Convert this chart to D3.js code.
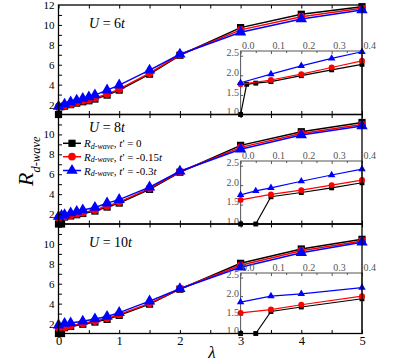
<!DOCTYPE html>
<html>
<head>
<meta charset="utf-8">
<script src="https://cdnjs.cloudflare.com/ajax/libs/d3/7.8.5/d3.min.js"></script>
<style>
body { margin: 0; background: #fff; }
svg { display: block; font-family: "Liberation Serif", "DejaVu Serif", serif; }
</style>
</head>
<body>
<svg id="chart" width="395" height="363"></svg>
<script>
// U = 6t
var u6BlackX = [0, 0.02, 0.05, 0.1, 0.2, 0.3, 0.4, 0.5, 0.6, 0.8, 1, 1.5, 2, 3, 4, 5];
var u6BlackY = [1.0, 1.77, 1.80, 1.84, 1.99, 2.14, 2.28, 2.38, 2.55, 2.95, 3.45, 5.05, 6.95, 9.73, 11.07, 11.83];
var u6RedX = [0, 0.1, 0.2, 0.3, 0.4, 0.5, 0.6, 0.8, 1, 1.5, 2, 3, 4, 5];
var u6RedY = [1.77, 1.88, 2.03, 2.20, 2.37, 2.48, 2.65, 3.05, 3.55, 5.15, 7.0, 9.5, 10.83, 11.67];
var u6BlueX = [0, 0.1, 0.2, 0.3, 0.4, 0.5, 0.6, 0.8, 1, 1.5, 2, 3, 4, 5];
var u6BlueY = [1.81, 2.03, 2.24, 2.43, 2.60, 2.75, 2.95, 3.45, 3.95, 5.45, 7.05, 9.27, 10.6, 11.5];

// U = 8t
var u8BlackX = [0, 0.05, 0.1, 0.2, 0.3, 0.4, 0.6, 0.8, 1, 1.5, 2, 3, 4, 5];
var u8BlackY = [1.0, 1.0, 1.70, 1.81, 1.93, 2.06, 2.3, 2.7, 3.1, 4.48, 6.2, 8.9, 10.27, 11.2];
var u8RedX = [0, 0.1, 0.2, 0.3, 0.4, 0.6, 0.8, 1, 1.5, 2, 3, 4, 5];
var u8RedY = [1.62, 1.76, 1.87, 2.0, 2.13, 2.4, 2.8, 3.2, 4.58, 6.25, 8.7, 10.1, 11.0];
var u8BlueX = [0, 0.05, 0.1, 0.2, 0.3, 0.4, 0.6, 0.8, 1, 1.5, 2, 3, 4, 5];
var u8BlueY = [1.75, 1.85, 1.93, 2.1, 2.26, 2.41, 2.65, 3.1, 3.45, 4.7, 6.3, 8.5, 9.94, 10.85];

// U = 10t
var u10BlackX = [0, 0.05, 0.1, 0.2, 0.4, 0.6, 0.8, 1, 1.5, 2, 3, 4, 5];
var u10BlackY = [1.0, 1.0, 1.59, 1.71, 1.93, 2.15, 2.42, 2.82, 3.95, 5.45, 8.05, 9.49, 10.46];
var u10RedX = [0, 0.1, 0.2, 0.4, 0.6, 0.8, 1, 1.5, 2, 3, 4, 5];
var u10RedY = [1.55, 1.64, 1.77, 2.0, 2.25, 2.52, 2.92, 4.03, 5.5, 7.85, 9.32, 10.3];
var u10BlueX = [0, 0.1, 0.2, 0.4, 0.6, 0.8, 1, 1.5, 2, 3, 4, 5];
var u10BlueY = [1.84, 2.0, 2.06, 2.23, 2.45, 2.7, 3.1, 4.25, 5.5, 7.65, 9.12, 10.16];

var panelLabels = ["6", "8", "10"];
var legendLabels = ["0", "-0.15", "-0.3"];
var legendT = ["", "t", "t"];
var mainXTicks = [0, 1, 2, 3, 4, 5];
var insetXTicks = [0, 0.1, 0.2, 0.3, 0.4];
var insetYTicks = [1.0, 1.5, 2.0, 2.5];

var colors = ["#000000", "#ff0000", "#0000ff"];
var symbols = [d3.symbolSquare, d3.symbolCircle, d3.symbolTriangle];

var panels = [
    [[u6BlackX, u6BlackY], [u6RedX, u6RedY], [u6BlueX, u6BlueY]],
    [[u8BlackX, u8BlackY], [u8RedX, u8RedY], [u8BlueX, u8BlueY]],
    [[u10BlackX, u10BlackY], [u10RedX, u10RedY], [u10BlueX, u10BlueY]]
];

var svg = d3.select("#chart");
var left = 58.5, right = 362;
var panelTops = [5, 114.5, 224];
var panelH = 109.5;
var insetTops = [51, 161, 273];
var labelBase = [28.3, 131.7, 247.3];

var x = d3.scaleLinear().domain([0, 5]).range([left, right]);

function drawSeries(g, xs, ys, sx, sy, color, symbol, size, lw) {
    var pts = xs.map(function (v, i) { return [v, ys[i]]; });
    g.append("path")
        .datum(pts)
        .style("stroke", color)
        .style("stroke-width", lw)
        .style("fill", "none")
        .attr("d", d3.line()
            .x(function (d) { return sx(d[0]); })
            .y(function (d) { return sy(d[1]); }));
    g.selectAll(null)
        .data(pts)
        .enter().append("path")
        .attr("transform", function (d) { return "translate(" + sx(d[0]) + "," + sy(d[1]) + ")"; })
        .attr("d", d3.symbol().type(symbol).size(size))
        .style("fill", color);
}

function styleAxis(g, color, size) {
    g.attr("font-family", null).attr("font-size", size);
    g.select(".domain").remove();
    g.selectAll("line").style("stroke", color);
    g.selectAll("text").style("fill", color);
}

var msizes = [52, 46, 56];
var isizes = [24, 28, 24];

panels.forEach(function (series, p) {
    var top = panelTops[p], bottom = top + panelH;
    var y = d3.scaleLinear().domain([1, 12]).range([bottom, top]);
    var g = svg.append("g");

    series.forEach(function (s, k) {
        drawSeries(g, s[0], s[1], x, y, colors[k], symbols[k], msizes[k], 1.5);
    });

    // inset
    var ix = d3.scaleLinear().domain([0, 0.4]).range([x(3), x(5)]);
    var iy = d3.scaleLinear().domain([1, 2.62]).range([bottom, insetTops[p]]);
    var ig = svg.append("g");
    ig.append("rect")
        .attr("x", ix(0)).attr("y", insetTops[p])
        .attr("width", ix(0.4) - ix(0)).attr("height", bottom - insetTops[p])
        .style("fill", "#fff").style("stroke", "#555").style("stroke-width", 1);
    series.forEach(function (s, k) {
        var xs = [], ys = [];
        s[0].forEach(function (v, i) { if (v <= 0.4) { xs.push(v); ys.push(s[1][i]); } });
        drawSeries(ig, xs, ys, ix, iy, colors[k], symbols[k], isizes[k], 1.2);
    });
    var iyAxis = ig.append("g")
        .attr("transform", "translate(" + ix(0) + ",0)")
        .call(d3.axisLeft(iy).tickValues(insetYTicks).tickSize(-2.5).tickPadding(1.5)
            .tickFormat(d3.format(".1f")));
    styleAxis(iyAxis, "#555", 10);
    iyAxis.selectAll("text").attr("dy", "0.02em");
    var ixAxis = ig.append("g")
        .attr("transform", "translate(0," + insetTops[p] + ")")
        .call(d3.axisTop(ix).tickValues(insetXTicks).tickSize(-3).tickPadding(2)
            .tickFormat(d3.format(".1f")));
    styleAxis(ixAxis, "#555", 10);
    ixAxis.selectAll("text").attr("text-anchor", "start").attr("x", 1);
    var ixMinor = ig.append("g")
        .attr("transform", "translate(0," + insetTops[p] + ")")
        .call(d3.axisTop(ix).tickValues([0.05, 0.15, 0.25, 0.35]).tickSize(-2).tickFormat(""));
    styleAxis(ixMinor, "#555", 10);

    // frame and main ticks
    svg.append("rect")
        .attr("x", left).attr("y", top)
        .attr("width", right - left).attr("height", panelH)
        .style("fill", "none").style("stroke", "#000").style("stroke-width", 1.3);

    var yt = svg.append("g").attr("transform", "translate(" + left + ",0)")
        .call(d3.axisLeft(y).tickValues(d3.range(2, 12)).tickSize(-3.5).tickFormat(""));
    styleAxis(yt, "#000", 11);
    var yl = svg.append("g").attr("transform", "translate(" + left + ",0)")
        .call(d3.axisLeft(y).tickValues(p === 0 ? [2, 4, 6, 8, 10, 12] : [2, 4, 6, 8, 10])
            .tickSize(0).tickPadding(4).tickFormat(d3.format("d")));
    styleAxis(yl, "#000", 11);

    var xb = svg.append("g").attr("transform", "translate(0," + bottom + ")")
        .call(d3.axisBottom(x).tickValues(d3.range(0, 5.01, 0.5)).tickSize(-3.5).tickFormat(""));
    styleAxis(xb, "#000", 12.5);
    var xtp = svg.append("g").attr("transform", "translate(0," + top + ")")
        .call(d3.axisTop(x).tickValues(d3.range(0, 5.01, 0.5)).tickSize(-3.5).tickFormat(""));
    styleAxis(xtp, "#000", 12.5);
    if (p === 2) {
        var xl = svg.append("g").attr("transform", "translate(0," + bottom + ")")
            .call(d3.axisBottom(x).tickValues(mainXTicks).tickSize(0).tickPadding(3)
                .tickFormat(d3.format("d")));
        styleAxis(xl, "#000", 12.5);
    }

    // U label
    var ut = svg.append("text").attr("x", 89).attr("y", labelBase[p]).style("font-size", "14px");
    ut.append("tspan").style("font-style", "italic").text("U");
    ut.append("tspan").text(" = " + panelLabels[p]);
    ut.append("tspan").style("font-style", "italic").text("t");
});

// legend in the U = 8t panel
var legendY = [143.3, 156.7, 170.5];
legendLabels.forEach(function (lab, k) {
    var lg = svg.append("g");
    lg.append("line")
        .attr("x1", 63).attr("x2", 81)
        .attr("y1", legendY[k]).attr("y2", legendY[k])
        .style("stroke", colors[k]).style("stroke-width", 1.5);
    lg.append("path")
        .attr("transform", "translate(72," + legendY[k] + ")")
        .attr("d", d3.symbol().type(symbols[k]).size(msizes[k]))
        .style("fill", colors[k]);
    var t = lg.append("text").attr("x", 84).attr("y", legendY[k] + 4).style("font-size", "11px");
    t.append("tspan").style("font-style", "italic").text("R");
    t.append("tspan").style("font-style", "italic").style("font-size", "8px").attr("dy", 1.5).text("d-wave");
    t.append("tspan").attr("dy", -1.5).text(", ");
    t.append("tspan").style("font-style", "italic").text("t");
    t.append("tspan").text("' = " + lab);
    if (legendT[k]) t.append("tspan").style("font-style", "italic").text(legendT[k]);
});

// axis titles
var yTitle = svg.append("text").attr("transform", "translate(33,186) rotate(-90)");
yTitle.append("tspan").style("font-style", "italic").style("font-size", "22px").text("R");
yTitle.append("tspan").style("font-style", "italic").style("font-size", "12.5px").attr("dy", 7).text("d-wave");

svg.append("text")
    .attr("x", 212).attr("y", 358)
    .attr("text-anchor", "middle")
    .style("font-style", "italic").style("font-size", "17px")
    .text("λ");
</script>
</body>
</html>
